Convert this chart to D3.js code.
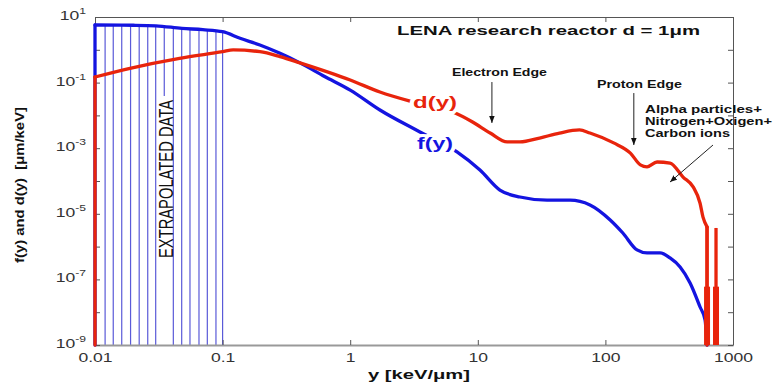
<!DOCTYPE html>
<html>
<head>
<meta charset="utf-8">
<script src="https://cdn.jsdelivr.net/npm/d3@7"></script>
<style>
  body { margin: 0; background: #fff; }
  svg { display: block; font-family: "Liberation Sans", Arial, sans-serif; }
</style>
</head>
<body>
<svg id="chart" width="773" height="387"></svg>
<script>
// f(y) frequency distribution (blue)
const fX = [0.01, 0.01, 0.02, 0.03, 0.048, 0.07, 0.1, 0.137, 0.196, 0.282, 0.404, 0.63, 1, 1.71, 3.52, 6.87, 10.4, 14.9, 21.4, 34.9, 52.8, 75.7, 109, 137, 177, 212, 268, 321, 385, 461, 552, 604, 626]
const fY = [1e-9, 5.7, 5.6, 5.4, 4.5, 4.1, 3.56, 2.24, 1.40, 0.78, 0.40, 0.153, 0.059, 0.0146, 0.00312, 7.7e-4, 2.16e-4, 5.3e-5, 3.25e-5, 2.6e-5, 2.6e-5, 1.86e-5, 6.5e-6, 2.6e-6, 7.9e-7, 6.4e-7, 6.4e-7, 4.5e-7, 2.4e-7, 7.8e-8, 1.44e-8, 5.8e-9, 1e-9]

// d(y) dose distribution (red)
const dX = [0.01, 0.01, 0.0188, 0.046, 0.1, 0.121, 0.196, 0.282, 0.404, 1, 1.71, 3.1, 6.4, 9.1, 12.5, 17, 21.4, 30.5, 43.7, 62.6, 75.7, 116, 157, 188, 212, 254, 321, 406, 487, 552, 582, 626, 626]
const dY = [1e-9, 0.148, 0.273, 0.55, 0.875, 0.99, 0.875, 0.62, 0.40, 0.12, 0.0516, 0.0257, 0.0127, 0.0063, 0.0029, 0.00155, 0.00155, 0.00204, 0.0029, 0.0036, 0.0029, 0.00145, 7.1e-4, 3.1e-4, 2.7e-4, 3.8e-4, 3.5e-4, 1.32e-4, 6.6e-5, 2.1e-5, 7.9e-6, 4.0e-6, 1e-9]

// red spikes at the high-y end
const spikeX = [626, 736]
const spikeTop = [4.0e-6, 3.7e-6]
const spikeThickTop = [6e-8, 6e-8]

// extrapolated region stems
const stemX = [0.012, 0.0139, 0.0162, 0.019, 0.0222, 0.0259, 0.0299, 0.0349, 0.0411, 0.0478, 0.0555, 0.0653, 0.0759, 0.0887, 0.1]
const stemTop = [5.7, 5.7, 5.65, 5.6, 5.55, 5.5, 5.4, 5.1, 4.8, 4.5, 4.35, 4.2, 4.0, 3.8, 3.56]

const xTicks = [0.01, 0.1, 1, 10, 100, 1000]
const xTickLabels = ['0.01', '0.1', '1', '10', '100', '1000']
const yTicks = [1e1, 1e0, 1e-1, 1e-2, 1e-3, 1e-4, 1e-5, 1e-6, 1e-7, 1e-8, 1e-9]
const yLabelExp = [1, -1, -3, -5, -7, -9]

const svg = d3.select('#chart')
const mLeft = 95, mRight = 733, mTop = 17, mBottom = 345
const stretch = 1.35
const blue = '#1414e0'
const red = '#e8240c'

const x = d3.scaleLog().domain([0.01, 1000]).range([mLeft, mRight])
const y = d3.scaleLog().domain([1e-9, 10]).range([mBottom, mTop])

// stems
svg.append('g')
    .selectAll('line')
    .data(stemX)
    .enter()
    .append('line')
    .attr('x1', (d) => x(d))
    .attr('x2', (d) => x(d))
    .attr('y1', y(1e-9))
    .attr('y2', (d, i) => y(stemTop[i]))
    .attr('stroke', '#5a5ad8')
    .attr('stroke-width', 1.2)

// white band behind the rotated label
svg.append('rect')
    .attr('x', 158).attr('y', 96)
    .attr('width', 13).attr('height', mBottom - 96)
    .attr('fill', '#fff')

svg.append('text')
    .attr('transform', 'translate(173,258) rotate(-90)')
    .attr('font-size', 20)
    .attr('textLength', 158)
    .attr('lengthAdjust', 'spacingAndGlyphs')
    .attr('fill', '#111')
    .text('EXTRAPOLATED DATA')

// axes
const axisColor = '#555'
const gx = svg.append('g')
    .attr('transform', `translate(0,${mBottom})`)
    .call(d3.axisBottom(x).tickValues(xTicks).tickFormat((d, i) => xTickLabels[i]).tickSizeInner(-5).tickSizeOuter(0).tickPadding(8))
gx.select('.domain').attr('stroke', '#999').attr('stroke-width', 2)
gx.selectAll('line').attr('stroke', axisColor)
gx.selectAll('text')
    .attr('font-size', 13)
    .attr('fill', '#333')
    .attr('transform', `scale(${stretch},1)`)
    .style('font-family', '"Liberation Sans", Arial, sans-serif')

const gt = svg.append('g')
    .attr('transform', `translate(0,${mTop})`)
    .call(d3.axisTop(x).tickValues(xTicks).tickFormat('').tickSizeInner(-5).tickSizeOuter(0))
gt.select('.domain').attr('stroke', axisColor)
gt.selectAll('line').attr('stroke', axisColor)

const gl = svg.append('g')
    .attr('transform', `translate(${mLeft},0)`)
    .call(d3.axisLeft(y).tickValues(yTicks).tickFormat('').tickSizeInner(-5).tickSizeOuter(0))
gl.select('.domain').attr('stroke', axisColor)
gl.selectAll('line').attr('stroke', axisColor)

const gr = svg.append('g')
    .attr('transform', `translate(${mRight},0)`)
    .call(d3.axisRight(y).tickValues(yTicks).tickFormat('').tickSizeInner(-5).tickSizeOuter(0))
gr.select('.domain').attr('stroke', axisColor)
gr.selectAll('line').attr('stroke', axisColor)

// y tick labels with superscripts
const yl = svg.append('g')
    .selectAll('text')
    .data(yLabelExp)
    .enter()
    .append('text')
    .attr('transform', (d) => `translate(${mLeft - 9},${y(Math.pow(10, d)) + 3}) scale(${stretch},1)`)
    .attr('text-anchor', 'end')
    .attr('font-size', 13)
    .attr('fill', '#333')
yl.append('tspan').text('10')
yl.append('tspan')
    .attr('dy', -6)
    .attr('font-size', 9)
    .text((d) => d)

// curves: vertical drops straight, the rest smoothed
const smooth = d3.line().curve(d3.curveMonotoneX).x((d) => x(d[0])).y((d) => y(d[1]))
const straight = d3.line().x((d) => x(d[0])).y((d) => y(d[1]))

function drawSeries(xs, ys, color) {
    const pts = xs.map((v, i) => [v, ys[i]])
    const runs = []
    let run = [pts[0]]
    for (let i = 1; i < pts.length; i++) {
        if (pts[i][0] === pts[i - 1][0]) {
            if (run.length > 1) runs.push({ pts: run, smooth: true })
            runs.push({ pts: [pts[i - 1], pts[i]], smooth: false })
            run = [pts[i]]
        } else {
            run.push(pts[i])
        }
    }
    if (run.length > 1) runs.push({ pts: run, smooth: true })

    svg.append('g')
        .selectAll('path')
        .data(runs)
        .enter()
        .append('path')
        .attr('d', (r) => (r.smooth ? smooth(r.pts) : straight(r.pts)))
        .attr('fill', 'none')
        .attr('stroke', color)
        .attr('stroke-width', 3.3)
        .attr('stroke-linejoin', 'round')
        .attr('stroke-linecap', 'round')
}

drawSeries(fX, fY, blue)
drawSeries(dX, dY, red)

svg.append('g')
    .selectAll('line')
    .data(spikeX)
    .enter()
    .append('line')
    .attr('x1', (d) => x(d)).attr('x2', (d) => x(d))
    .attr('y1', y(1e-9)).attr('y2', (d, i) => y(spikeTop[i]))
    .attr('stroke', red)
    .attr('stroke-width', 3.3)

svg.append('g')
    .selectAll('line')
    .data(spikeX)
    .enter()
    .append('line')
    .attr('x1', (d) => x(d)).attr('x2', (d) => x(d))
    .attr('y1', y(1e-9)).attr('y2', (d, i) => y(spikeThickTop[i]))
    .attr('stroke', red)
    .attr('stroke-width', 6)

// curve labels
svg.append('text')
    .attr('x', 413).attr('y', 108)
    .attr('font-size', 17).attr('font-weight', 'bold')
    .attr('textLength', 44).attr('lengthAdjust', 'spacingAndGlyphs')
    .attr('fill', red)
    .attr('stroke', '#fff').attr('stroke-width', 6).attr('paint-order', 'stroke')
    .text('d(y)')

svg.append('text')
    .attr('x', 417).attr('y', 149)
    .attr('font-size', 17).attr('font-weight', 'bold')
    .attr('textLength', 36).attr('lengthAdjust', 'spacingAndGlyphs')
    .attr('fill', blue)
    .attr('stroke', '#fff').attr('stroke-width', 6).attr('paint-order', 'stroke')
    .text('f(y)')

// annotations
svg.append('defs').append('marker')
    .attr('id', 'arrow')
    .attr('viewBox', '0 0 10 10')
    .attr('refX', 10).attr('refY', 5)
    .attr('markerWidth', 7).attr('markerHeight', 7)
    .attr('orient', 'auto-start-reverse')
    .append('path')
    .attr('d', 'M0,1 L10,5 L0,9 z')
    .attr('fill', '#111')

const arrows = [
    [12.9, 0.104, 12.9, 0.0059],
    [167, 0.048, 167, 0.00125],
    [697, 0.00125, 321, 9.3e-5],
]
svg.append('g')
    .selectAll('line')
    .data(arrows)
    .enter()
    .append('line')
    .attr('x1', (d) => x(d[0])).attr('y1', (d) => y(d[1]))
    .attr('x2', (d) => x(d[2])).attr('y2', (d) => y(d[3]))
    .attr('stroke', '#222')
    .attr('stroke-width', 1)
    .attr('marker-end', 'url(#arrow)')

const notes = [
    ['LENA research reactor d = 1\u03bcm', 397, 35, 13, 303],
    ['Electron Edge', 452, 76, 10, 95],
    ['Proton Edge', 597, 88, 10, 85],
    ['Alpha particles+', 645, 113, 10, 117],
    ['Nitrogen+Oxigen+', 645, 125, 10, 127],
    ['Carbon ions', 645, 137, 10, 85],
]
svg.append('g')
    .selectAll('text')
    .data(notes)
    .enter()
    .append('text')
    .attr('x', (d) => d[1]).attr('y', (d) => d[2])
    .attr('font-size', (d) => d[3])
    .attr('font-weight', 'bold')
    .attr('textLength', (d) => d[4])
    .attr('lengthAdjust', 'spacingAndGlyphs')
    .attr('fill', '#111')
    .text((d) => d[0])

// axis titles
svg.append('text')
    .attr('x', 368).attr('y', 379)
    .attr('font-size', 12).attr('font-weight', 'bold')
    .attr('textLength', 102).attr('lengthAdjust', 'spacingAndGlyphs')
    .attr('fill', '#111')
    .text('y [keV/\u03bcm]')

svg.append('text')
    .attr('transform', 'translate(24,263) rotate(-90)')
    .attr('font-size', 13).attr('font-weight', 'bold')
    .attr('textLength', 156).attr('lengthAdjust', 'spacingAndGlyphs')
    .attr('fill', '#111')
    .attr('xml:space', 'preserve')
    .text('f(y) and d(y)  [\u03bcm/keV]')
</script>
</body>
</html>
